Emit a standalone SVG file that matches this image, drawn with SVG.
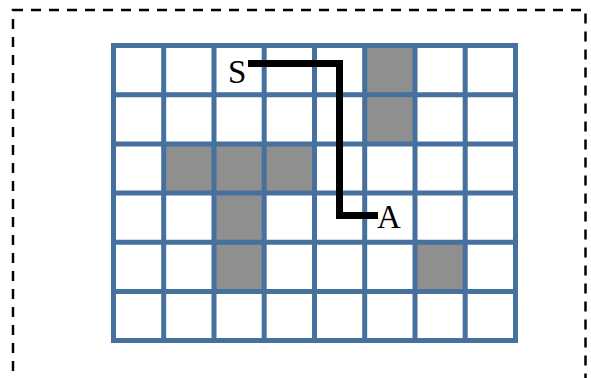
<svg xmlns="http://www.w3.org/2000/svg" width="591" height="378" viewBox="0 0 591 378">
<style>
.frame{fill:none;stroke:#000;stroke-width:2.5;stroke-dasharray:10 8}
.cell{fill:#8f8f8f}
.grid{fill:none;stroke:#46709e;stroke-width:5;stroke-linecap:square}
.path{fill:none;stroke:#000;stroke-width:7;stroke-linejoin:miter}
.lbl{font-family:"Liberation Serif","Times New Roman",serif;font-size:33px;fill:#000}
</style>
<rect class="frame" x="13" y="10" width="572.5" height="400"/>
<g id="obstacles">
<rect class="cell" x="364.7" y="45.5" width="50.3" height="49.2"/>
<rect class="cell" x="364.7" y="94.7" width="50.3" height="49.2"/>
<rect class="cell" x="163.7" y="143.9" width="50.3" height="49.2"/>
<rect class="cell" x="214" y="143.9" width="50.2" height="49.2"/>
<rect class="cell" x="264.2" y="143.9" width="50.3" height="49.2"/>
<rect class="cell" x="214" y="193.1" width="50.2" height="49.2"/>
<rect class="cell" x="214" y="242.3" width="50.2" height="49.2"/>
<rect class="cell" x="415" y="242.3" width="50.2" height="49.2"/>
</g>
<g id="grid">
<path class="grid" d="M113.5 45.5V340.5M163.7 45.5V340.5M214 45.5V340.5M264.2 45.5V340.5M314.5 45.5V340.5M364.7 45.5V340.5M415 45.5V340.5M465.2 45.5V340.5M515.5 45.5V340.5M113.5 45.5H515.5M113.5 94.7H515.5M113.5 143.9H515.5M113.5 193.1H515.5M113.5 242.3H515.5M113.5 291.5H515.5M113.5 340.5H515.5"/>
</g>
<g id="connectors">
<polyline class="path" points="248,63.5 339.5,63.5 339.5,215.5 378,215.5"/>
</g>
<g id="S"><text class="lbl" x="228" y="83">S</text></g>
<g id="A"><text class="lbl" x="377" y="228">A</text></g>
</svg>
